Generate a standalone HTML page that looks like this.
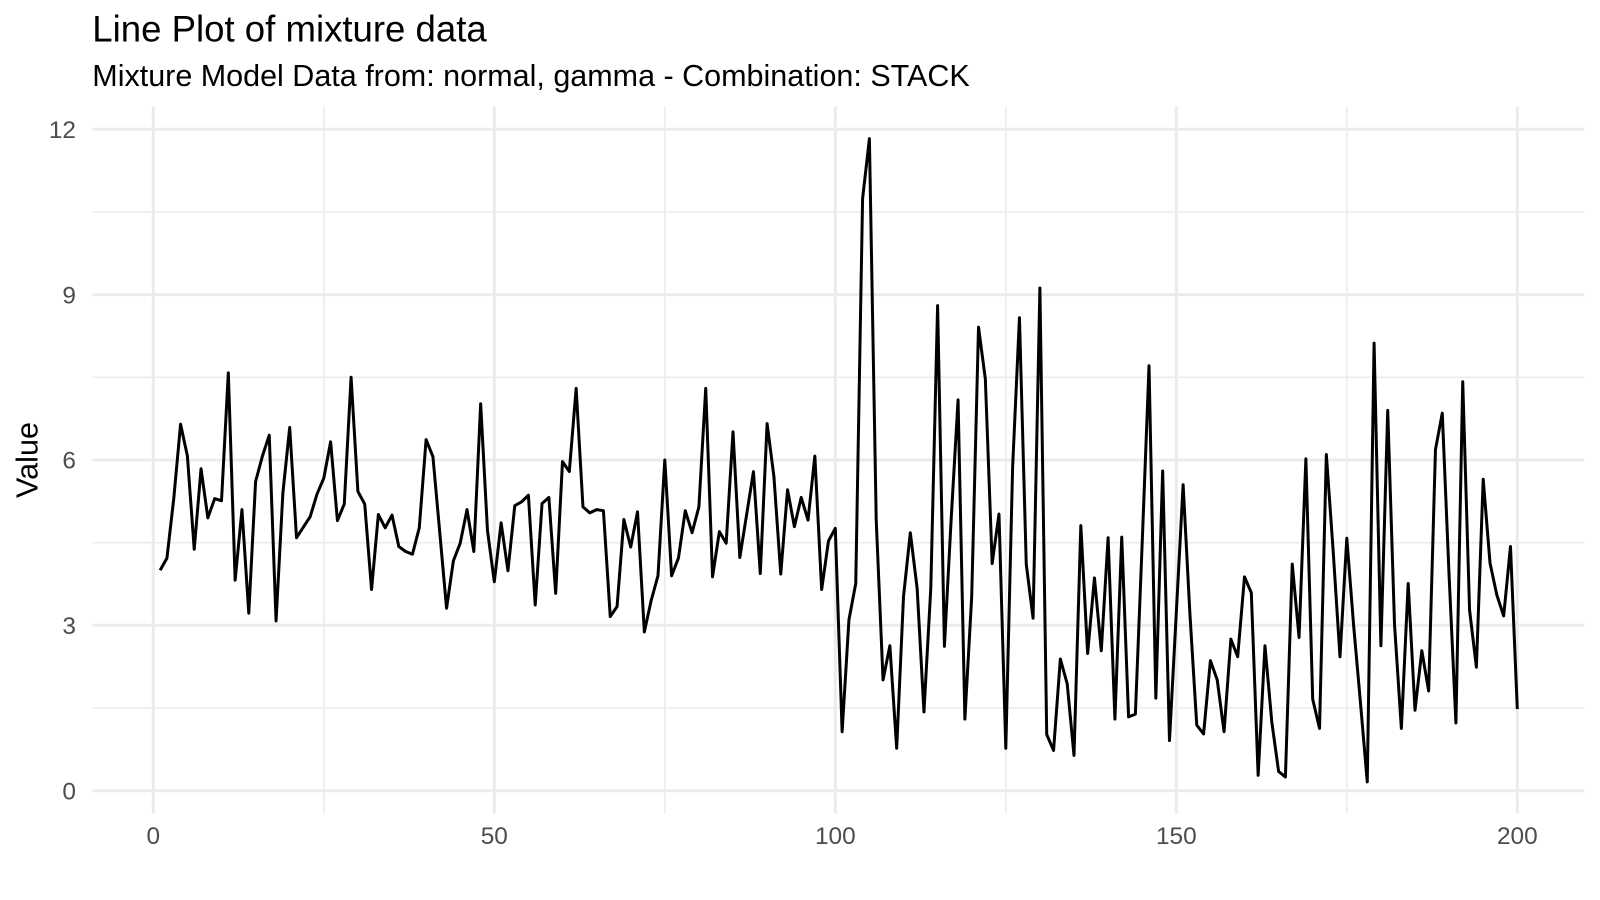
<!DOCTYPE html>
<html>
<head>
<meta charset="utf-8">
<style>
  html, body { margin: 0; padding: 0; background: #ffffff; }
  svg { display: block; }
  text { font-family: "Liberation Sans", Arial, Helvetica, sans-serif; }
</style>
</head>
<body>
<svg width="1600" height="900" viewBox="0 0 1600 900" xmlns="http://www.w3.org/2000/svg">
  <rect x="0" y="0" width="1600" height="900" fill="#ffffff"/>

  <!-- minor gridlines -->
  <g stroke="#EBEBEB" stroke-width="1.5" fill="none">
    <line x1="92.3" y1="708.0" x2="1584.3" y2="708.0"/>
    <line x1="92.3" y1="542.7" x2="1584.3" y2="542.7"/>
    <line x1="92.3" y1="377.3" x2="1584.3" y2="377.3"/>
    <line x1="92.3" y1="212.0" x2="1584.3" y2="212.0"/>
    <line x1="323.8" y1="106.5" x2="323.8" y2="813.5"/>
    <line x1="664.8" y1="106.5" x2="664.8" y2="813.5"/>
    <line x1="1005.8" y1="106.5" x2="1005.8" y2="813.5"/>
    <line x1="1346.8" y1="106.5" x2="1346.8" y2="813.5"/>
  </g>

  <!-- major gridlines -->
  <g stroke="#EBEBEB" stroke-width="3" fill="none">
    <line x1="92.3" y1="790.7" x2="1584.3" y2="790.7"/>
    <line x1="92.3" y1="625.3" x2="1584.3" y2="625.3"/>
    <line x1="92.3" y1="460.0" x2="1584.3" y2="460.0"/>
    <line x1="92.3" y1="294.6" x2="1584.3" y2="294.6"/>
    <line x1="92.3" y1="129.3" x2="1584.3" y2="129.3"/>
    <line x1="153.3" y1="106.5" x2="153.3" y2="813.5"/>
    <line x1="494.3" y1="106.5" x2="494.3" y2="813.5"/>
    <line x1="835.3" y1="106.5" x2="835.3" y2="813.5"/>
    <line x1="1176.3" y1="106.5" x2="1176.3" y2="813.5"/>
    <line x1="1517.3" y1="106.5" x2="1517.3" y2="813.5"/>
  </g>

  <!-- data line -->
  <g transform="translate(153.3,790.7) scale(6.82,-55.12)">
    <polyline fill="none" stroke="#000000" stroke-width="3" stroke-linejoin="round" stroke-linecap="butt" vector-effect="non-scaling-stroke"
      points="1,4.00 2,4.22 3,5.30 4,6.65 5,6.07 6,4.38 7,5.84 8,4.95 9,5.30 10,5.26
11,7.58 12,3.82 13,5.10 14,3.22 15,5.61 16,6.07 17,6.45 18,3.08 19,5.40 20,6.59
21,4.59 22,4.78 23,4.97 24,5.38 25,5.67 26,6.33 27,4.90 28,5.20 29,7.50 30,5.43
31,5.20 32,3.65 33,5.01 34,4.77 35,5.00 36,4.43 37,4.34 38,4.29 39,4.77 40,6.37
41,6.06 42,4.69 43,3.31 44,4.17 45,4.49 46,5.10 47,4.34 48,7.02 49,4.72 50,3.79
51,4.86 52,3.99 53,5.17 54,5.24 55,5.36 56,3.37 57,5.21 58,5.32 59,3.58 60,5.97
61,5.79 62,7.30 63,5.15 64,5.04 65,5.10 66,5.08 67,3.16 68,3.34 69,4.92 70,4.42
71,5.06 72,2.88 73,3.45 74,3.90 75,6.00 76,3.90 77,4.22 78,5.08 79,4.68 80,5.15
81,7.30 82,3.88 83,4.70 84,4.49 85,6.51 86,4.23 87,5.01 88,5.79 89,3.94 90,6.66
91,5.70 92,3.93 93,5.46 94,4.79 95,5.32 96,4.91 97,6.07 98,3.65 99,4.53 100,4.76
101,1.07 102,3.10 103,3.76 104,10.74 105,11.83 106,4.91 107,2.01 108,2.63 109,0.77 110,3.52
111,4.68 112,3.67 113,1.43 114,3.67 115,8.80 116,2.62 117,4.95 118,7.09 119,1.30 120,3.52
121,8.41 122,7.47 123,4.12 124,5.02 125,0.77 126,5.87 127,8.58 128,4.11 129,3.13 130,9.12
131,1.02 132,0.73 133,2.39 134,1.94 135,0.64 136,4.81 137,2.49 138,3.86 139,2.54 140,4.59
141,1.30 142,4.60 143,1.34 144,1.39 145,4.50 146,7.71 147,1.68 148,5.80 149,0.91 150,3.23
151,5.55 152,3.20 153,1.19 154,1.03 155,2.36 156,2.01 157,1.07 158,2.75 159,2.43 160,3.88
161,3.59 162,0.28 163,2.63 164,1.25 165,0.35 166,0.25 167,4.11 168,2.78 169,6.02 170,1.66
171,1.13 172,6.10 173,4.35 174,2.43 175,4.58 176,3.00 177,1.60 178,0.16 179,8.12 180,2.63
181,6.90 182,3.01 183,1.13 184,3.76 185,1.46 186,2.54 187,1.81 188,6.19 189,6.85 190,3.90
191,1.23 192,7.42 193,3.28 194,2.24 195,5.65 196,4.13 197,3.55 198,3.17 199,4.43 200,1.48"/>
  </g>

  <!-- y tick labels -->
  <g fill="#4D4D4D" font-size="24.4" text-anchor="end">
    <text x="76" y="799.4">0</text>
    <text x="76" y="634.0">3</text>
    <text x="76" y="468.7">6</text>
    <text x="76" y="303.3">9</text>
    <text x="76" y="138.0">12</text>
  </g>

  <!-- x tick labels -->
  <g fill="#4D4D4D" font-size="24.4" text-anchor="middle">
    <text x="153.3" y="844">0</text>
    <text x="494.3" y="844">50</text>
    <text x="835.3" y="844">100</text>
    <text x="1176.3" y="844">150</text>
    <text x="1517.3" y="844">200</text>
  </g>

  <!-- axis title -->
  <text x="0" y="0" font-size="30.6" fill="#000000" text-anchor="middle" transform="translate(37.3,460) rotate(-90)">Value</text>

  <!-- titles -->
  <text x="92.3" y="41.5" font-size="36.6" fill="#000000">Line Plot of mixture data</text>
  <text x="92.3" y="85.8" font-size="30.5" fill="#000000">Mixture Model Data from: normal, gamma - Combination: STACK</text>
</svg>
</body>
</html>
